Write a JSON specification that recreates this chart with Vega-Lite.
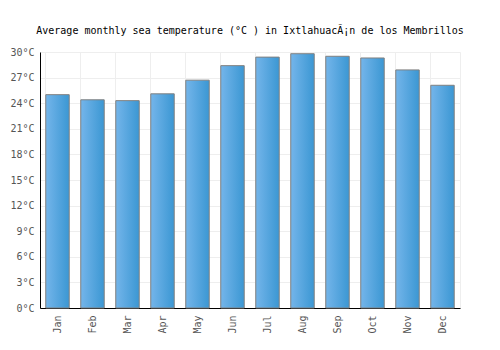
{
  "$schema": "https://vega.github.io/schema/vega-lite/v6.json",
  "width": 420,
  "height": 256,
  "autosize": "none",
  "padding": {"left": 40, "top": 52, "right": 40, "bottom": 42},
  "background": "white",
  "title": {
    "text": "Average monthly sea temperature (°C ) in IxtlahuacÃ¡n de los Membrillos",
    "font": "DejaVu Sans Mono",
    "fontSize": 10,
    "fontWeight": "normal",
    "color": "#000000",
    "anchor": "middle",
    "offset": 11
  },
  "config": {
    "view": {"stroke": "#eeeeee", "strokeWidth": 1},
    "axis": {
      "labelFont": "DejaVu Sans Mono",
      "labelFontSize": 10,
      "labelColor": "#555555",
      "gridColor": "#eeeeee",
      "domainColor": "#000000",
      "ticks": false,
      "title": null
    }
  },
  "data": {
    "values": [
      {"month": "Jan", "temp": 25.0},
      {"month": "Feb", "temp": 24.4},
      {"month": "Mar", "temp": 24.3},
      {"month": "Apr", "temp": 25.1},
      {"month": "May", "temp": 26.7},
      {"month": "Jun", "temp": 28.4},
      {"month": "Jul", "temp": 29.4},
      {"month": "Aug", "temp": 29.8},
      {"month": "Sep", "temp": 29.5},
      {"month": "Oct", "temp": 29.3},
      {"month": "Nov", "temp": 27.9},
      {"month": "Dec", "temp": 26.1}
    ]
  },
  "mark": {
    "type": "bar",
    "stroke": "#808080",
    "strokeWidth": 1,
    "fill": {
      "gradient": "linear",
      "x1": 0, "x2": 1, "y1": 0, "y2": 0,
      "stops": [
        {"offset": 0, "color": "#74b5ea"},
        {"offset": 1, "color": "#3b97d3"}
      ]
    }
  },
  "encoding": {
    "x": {
      "field": "month",
      "type": "nominal",
      "sort": null,
      "scale": {"paddingInner": 0.33, "paddingOuter": 0.165},
      "axis": {
        "labelAngle": -90,
        "grid": true,
        "bandPosition": 0,
        "labelPadding": 7,
        "domainWidth": 1
      }
    },
    "y": {
      "field": "temp",
      "type": "quantitative",
      "scale": {"domain": [0, 30], "nice": false},
      "axis": {
        "values": [0, 3, 6, 9, 12, 15, 18, 21, 24, 27, 30],
        "labelExpr": "datum.value + '°C'",
        "labelPadding": 6,
        "grid": true
      }
    }
  }
}
